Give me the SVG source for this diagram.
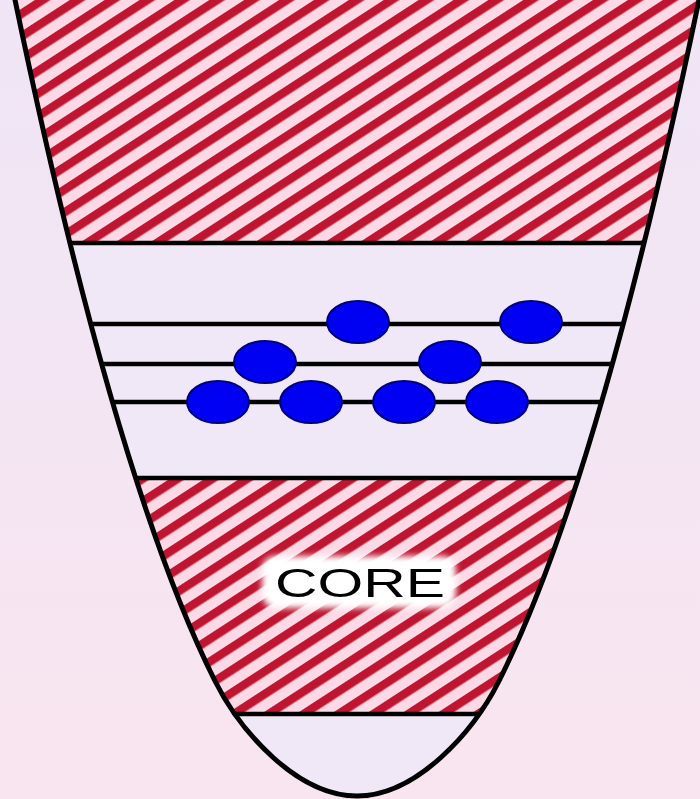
<svg xmlns="http://www.w3.org/2000/svg" width="700" height="799" viewBox="0 0 700 799">
  <defs>
    <linearGradient id="bg" x1="0" y1="0" x2="0" y2="1">
      <stop offset="0" stop-color="#efe5f6"/>
      <stop offset="1" stop-color="#f9e5f0"/>
    </linearGradient>
    <pattern id="hatch" patternUnits="userSpaceOnUse" width="19" height="19" patternTransform="rotate(-33)">
      <rect width="19" height="19" fill="#fcd9e5"/>
      <rect y="0" width="19" height="8.5" fill="#bf1530"/>
    </pattern>
    <clipPath id="well">
      <path d="M14,-5 Q114.5,480.1 215,681 C240,731 297,796 357,796 C417,796 474,731 499,681 Q599.5,480.1 700,-5 Z"/>
    </clipPath>
    <filter id="soft" x="-20%" y="-40%" width="140%" height="180%">
      <feGaussianBlur stdDeviation="3"/>
    </filter>
    <style>
      .hl { stroke: #000; stroke-width: 4.5; fill: none; }
      .well { stroke: #000; stroke-width: 5; fill: none; }
      .p { fill: #0000f2; stroke: #00007a; stroke-width: 2; }
      .lbl { font-family: "Liberation Sans", Arial, sans-serif; font-size: 41px; fill: #000; }
    </style>
  </defs>

  <rect id="background" width="700" height="799" fill="url(#bg)"/>

  <g id="well-interior" clip-path="url(#well)">
    <rect x="0" y="-10" width="700" height="820" fill="#f1e8f7"/>
    <rect id="upper-hatch" x="0" y="-10" width="700" height="253" fill="url(#hatch)"/>
    <rect id="core-hatch" x="0" y="478" width="700" height="236" fill="url(#hatch)"/>
  </g>

  <g id="connectors">
    <line class="hl" x1="0" y1="243" x2="700" y2="243" clip-path="url(#well)"/>
    <line class="hl" x1="0" y1="324" x2="700" y2="324" clip-path="url(#well)"/>
    <line class="hl" x1="0" y1="364" x2="700" y2="364" clip-path="url(#well)"/>
    <line class="hl" x1="0" y1="402" x2="700" y2="402" clip-path="url(#well)"/>
    <line class="hl" x1="0" y1="478" x2="700" y2="478" clip-path="url(#well)"/>
    <line class="hl" x1="0" y1="714" x2="700" y2="714" clip-path="url(#well)"/>
  </g>

  <g id="well-outline">
    <path class="well" d="M14,-5 Q114.5,480.1 215,681 C240,731 297,796 357,796 C417,796 474,731 499,681 Q599.5,480.1 700,-5"/>
  </g>

  <g id="particles">
    <g id="p1"><ellipse class="p" cx="358" cy="322" rx="31" ry="21"/></g>
    <g id="p2"><ellipse class="p" cx="531" cy="322" rx="31" ry="21"/></g>
    <g id="p3"><ellipse class="p" cx="265" cy="362" rx="31" ry="21"/></g>
    <g id="p4"><ellipse class="p" cx="450" cy="362" rx="31" ry="21"/></g>
    <g id="p5"><ellipse class="p" cx="218" cy="402" rx="31" ry="21"/></g>
    <g id="p6"><ellipse class="p" cx="311" cy="402" rx="31" ry="21"/></g>
    <g id="p7"><ellipse class="p" cx="404" cy="402" rx="31" ry="21"/></g>
    <g id="p8"><ellipse class="p" cx="497" cy="402" rx="31" ry="21"/></g>
  </g>

  <g id="core-label">
    <rect x="262" y="556" width="194" height="52" rx="14" fill="#ffffff" filter="url(#soft)"/>
    <text class="lbl" x="275" y="597" textLength="170" lengthAdjust="spacingAndGlyphs">CORE</text>
  </g>
</svg>
